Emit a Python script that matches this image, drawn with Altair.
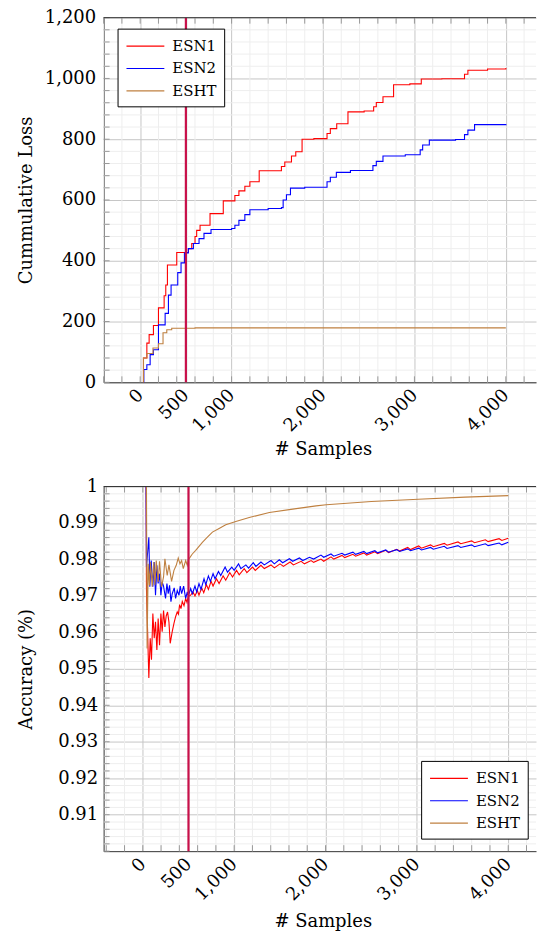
import altair as alt
import pandas as pd

FONT = "DejaVu Serif"
series = ["ESN1", "ESN2", "ESHT"]
colors = ["#ff0000", "#0000ff", "#bf8040"]
marker_x = [500]

# ---------------- Cumulative loss (step lines) ----------------
loss_esn1_x = [36, 36, 73, 98, 145, 200, 262, 280, 298, 400, 527, 564, 600, 618, 655, 764, 909, 1036,
               1080, 1145, 1200, 1302, 1545, 1582, 1655, 1702, 1771, 1900, 2044, 2080, 2150, 2273, 2450,
               2554, 2583, 2656, 2772, 2950, 3075, 3300, 3548, 3585, 3800, 4000]
loss_esn1_y = [0, 80, 129, 157, 187, 245, 285, 320, 386, 427, 440, 457, 480, 500, 517, 555, 597, 615,
               630, 645, 660, 696, 710, 725, 745, 759, 800, 802, 819, 835, 851, 890, 893,
               907, 921, 940, 979, 982, 998, 999, 1014, 1027, 1031, 1034]

loss_esn2_x = [40, 40, 73, 109, 145, 200, 273, 309, 338, 411, 447, 484, 527, 582, 644, 698, 775, 1000,
               1036, 1080, 1145, 1200, 1400, 1545, 1564, 1600, 1644, 1800, 2044, 2080, 2146, 2300, 2546,
               2583, 2656, 2900, 3063, 3090, 3163, 3450, 3548, 3585, 3658, 4000]
loss_esn2_y = [0, 42, 58, 91, 107, 189, 227, 287, 320, 361, 393, 426, 440, 457, 473, 490, 503, 506,
               517, 533, 552, 568, 572, 575, 600, 617, 639, 642, 660, 675, 691, 697, 713,
               727, 745, 749, 765, 781, 797, 799, 815, 830, 848, 850]

loss_esht_x = [36, 36, 73, 140, 200, 250, 291, 345, 600, 4000]
loss_esht_y = [0, 80, 95, 113, 127, 163, 173, 178, 179, 179]

# ---------------- Accuracy ----------------
acc_esn1_x = [36, 40, 66, 81, 95, 110, 125, 139, 154, 168, 183, 198, 212, 227, 242, 256, 271, 286, 300,
              322, 341, 359, 377, 390, 403, 418, 432, 451, 469, 484, 498,
              524, 549, 571, 597, 615, 645, 667, 696, 718, 747, 769, 806, 835, 879, 908, 952, 982,
              1026, 1055, 1110, 1139, 1201, 1231, 1293, 1330, 1403, 1440, 1502, 1539, 1612, 1648,
              1733, 1769, 1842, 1870,
              1950, 1980, 2060, 2090, 2180, 2210, 2300, 2330, 2420, 2450, 2540, 2570, 2660, 2690,
              2780, 2810, 2900, 2930, 3020, 3050, 3150, 3180, 3300, 3330, 3450, 3480, 3600, 3630,
              3750, 3780, 3900, 3930, 4000]
acc_esn1_y = [1.0, 0.972, 0.9475, 0.9584, 0.9525, 0.9652, 0.9584, 0.9629, 0.9552, 0.9638, 0.9565,
              0.9652, 0.9602, 0.966, 0.9615, 0.9645, 0.9656, 0.9629, 0.957,
              0.9602, 0.9625, 0.9643, 0.9656, 0.965, 0.9676, 0.9665, 0.9685, 0.9673, 0.9693, 0.9682, 0.9698,
              0.9702, 0.9711, 0.97, 0.9715, 0.9702, 0.9722, 0.9709, 0.9731, 0.9718, 0.974, 0.9727,
              0.9747, 0.9734, 0.9755, 0.9743, 0.9764, 0.9752,
              0.977, 0.9758, 0.9775, 0.9764, 0.9779, 0.977, 0.9784, 0.9775, 0.9785, 0.9777, 0.9788,
              0.9781, 0.9793, 0.9785, 0.9795, 0.9788, 0.9797, 0.9792,
              0.9801, 0.9795, 0.9807, 0.9801, 0.9811, 0.9805, 0.9814, 0.9809, 0.9818, 0.9812, 0.9821,
              0.9816, 0.9825, 0.9819, 0.9828, 0.9823, 0.9833, 0.9827, 0.9837, 0.9831, 0.984, 0.9835,
              0.9844, 0.9839, 0.9848, 0.9843, 0.9851, 0.9846, 0.9854, 0.9849, 0.9857, 0.9852, 0.9858]

acc_esn2_x = [36, 40, 66, 77, 92, 110, 125, 139, 154, 168, 183, 198, 212, 227, 249, 264, 278, 293, 308,
              322, 344, 359, 377, 396, 410, 425, 447, 469, 487, 498,
              524, 542, 571, 590, 615, 637, 670, 689, 718, 740, 769, 791, 828, 853, 901, 927, 974, 1000,
              1048, 1073, 1128, 1158, 1209, 1238, 1293, 1330, 1403, 1440, 1494, 1531, 1604, 1641,
              1714, 1751, 1824, 1870,
              1950, 1980, 2060, 2090, 2180, 2210, 2300, 2330, 2420, 2450, 2540, 2570, 2660, 2690,
              2780, 2810, 2900, 2930, 3020, 3050, 3150, 3180, 3300, 3330, 3450, 3480, 3600, 3630,
              3750, 3780, 3900, 3930, 4000]
acc_esn2_y = [1.0, 0.978, 0.9861, 0.9725, 0.9797, 0.9725, 0.9793, 0.9702, 0.9784, 0.9734, 0.9761,
              0.9702, 0.9738, 0.9727, 0.9693, 0.9734, 0.9706, 0.9729, 0.9684,
              0.9706, 0.9722, 0.9693, 0.9715, 0.9702, 0.9727, 0.9706, 0.9727, 0.9693, 0.9711, 0.97,
              0.972, 0.9706, 0.9727, 0.9711, 0.9734, 0.9718, 0.9747, 0.9731, 0.9755, 0.974, 0.9761,
              0.9747, 0.9767, 0.9756, 0.9779, 0.9765, 0.9779, 0.977,
              0.9788, 0.9775, 0.9785, 0.9776, 0.9791, 0.9781, 0.9793, 0.9785, 0.9797, 0.9788, 0.9799,
              0.9791, 0.9802, 0.9795, 0.9804, 0.9797, 0.9806, 0.9801,
              0.9812, 0.9806, 0.9815, 0.9809, 0.9817, 0.9812, 0.982, 0.9814, 0.9822, 0.9816, 0.9824,
              0.9818, 0.9826, 0.982, 0.9827, 0.9822, 0.9829, 0.9824, 0.9831, 0.9826, 0.9833, 0.9828,
              0.9836, 0.983, 0.9838, 0.9833, 0.984, 0.9835, 0.9843, 0.9838, 0.9845, 0.984, 0.9847]

acc_esht_x = [36, 40, 47, 59, 73, 84, 103, 121, 132, 147, 168, 183, 205, 227, 242, 267, 286, 315, 341,
              366, 388, 407, 425, 443, 469, 487, 498, 542, 579, 652, 707, 762, 835, 908, 1018, 1165,
              1385, 1641, 1897, 2008, 2502, 3015, 3527, 4000]
acc_esht_y = [1.0, 1.0, 0.9556, 0.9788, 0.9729, 0.9793, 0.9725, 0.9793, 0.9729, 0.9797, 0.9738, 0.9795,
              0.9725, 0.9752, 0.9802, 0.9756, 0.9785, 0.974, 0.977, 0.9784, 0.9804, 0.9788, 0.9797,
              0.9775, 0.9797, 0.9784, 0.9799, 0.9815, 0.9825, 0.9847, 0.9861, 0.9875, 0.9885, 0.9895,
              0.9904, 0.9915, 0.9929, 0.9938, 0.9947, 0.995, 0.9959, 0.9965, 0.9971, 0.9975]

# axis values
x_label_vals = [0, 500, 1000, 2000, 3000, 4000]
x_all = list(range(-400, 4201, 200))
x_minor = [v for v in x_all if v % 1000 != 0]
loss_major = list(range(0, 1201, 200))
loss_all = list(range(0, 1201, 40))
loss_minor = [v for v in loss_all if v % 200 != 0]
acc_major = [round(0.91 + 0.01 * i, 2) for i in range(10)]
acc_all = [round(0.90 + 0.002 * i, 3) for i in range(51)]
acc_minor = [v for v in acc_all if round(v * 1000) % 10 != 0]


def make_df(pairs):
    rows = []
    for name, xs, ys in pairs:
        for i, (a, b) in enumerate(zip(xs, ys)):
            rows.append({"x": a, "y": b, "s": name, "i": i})
    return pd.DataFrame(rows)


loss_df = make_df([("ESN1", loss_esn1_x, loss_esn1_y), ("ESN2", loss_esn2_x, loss_esn2_y),
                   ("ESHT", loss_esht_x, loss_esht_y)])
acc_df = make_df([("ESN1", acc_esn1_x, acc_esn1_y), ("ESN2", acc_esn2_x, acc_esn2_y),
                  ("ESHT", acc_esht_x, acc_esht_y)])

W = 434
H = 366
TICK = 6
MINOR_C = "#eeeeee"
MAJOR_C = "#c6c6c6"
FRAME_C = "#333333"
TICK_C = "#999999"
VLINE_C = "#c8104a"

# legend symbol colour, looked up from the series/colour lists
sym_expr = " : ".join(f"datum.value == '{s}' ? '{c}'" for s, c in zip(series[:-1], colors[:-1]))
sym_expr = f"{sym_expr} : '{colors[-1]}'"


def panel(df, xdom, ydom, yvals, ymajor, yminor, ylabexpr, ytitle, interp, legend_pos, ylabpad, xtitle_y):
    xs = alt.Scale(domain=xdom, nice=False, zero=False)
    ys = alt.Scale(domain=ydom, nice=False, zero=False)
    xaxis = alt.Axis(values=x_label_vals, labelExpr="format(datum.value, ',')", labelAngle=-45,
                     labelAlign="right", labelBaseline="middle", labelPadding=10, labelOverlap=False,
                     ticks=False, grid=True, gridColor=MAJOR_C, domainColor=FRAME_C, labelFont=FONT,
                     labelFontSize=18, labelColor="black", titleFont=FONT, titleFontSize=18,
                     titleFontWeight="normal", titleColor="black", titleX=220, titleY=xtitle_y,
                     titleBaseline="alphabetic", titleAlign="center")
    yaxis = alt.Axis(values=ymajor, labelExpr=ylabexpr, ticks=False, grid=True, gridColor=MAJOR_C,
                     labelOverlap=False, domainColor=FRAME_C, labelFont=FONT, labelFontSize=18,
                     labelColor="black", labelPadding=ylabpad, titleFont=FONT, titleFontSize=18,
                     titleFontWeight="normal", titleColor="black", titleX=-72, titleY=H / 2,
                     titleAngle=270, titleBaseline="alphabetic", titleAlign="center")
    X = alt.X("x:Q", scale=xs, title="# Samples", axis=xaxis)
    Y = alt.Y("y:Q", scale=ys, title=ytitle, axis=yaxis)

    xg = pd.DataFrame({"x": x_minor})
    yg = pd.DataFrame({"y": yminor})
    xt = pd.DataFrame({"x": x_all})
    yt = pd.DataFrame({"y": yvals})

    minor_x = alt.Chart(xg).mark_rule(color=MINOR_C, strokeWidth=1).encode(x=X)
    minor_y = alt.Chart(yg).mark_rule(color=MINOR_C, strokeWidth=1).encode(y=Y)

    lines = alt.Chart(df).mark_line(strokeWidth=1.1, interpolate=interp).encode(
        x=X, y=Y,
        color=alt.Color("s:N", scale=alt.Scale(domain=series, range=colors),
                        legend=alt.Legend(title=None, orient="none", legendX=legend_pos[0],
                                          legendY=legend_pos[1], direction="vertical",
                                          symbolType="M-0.9,0H3.1", symbolSize=361, symbolStrokeWidth=1.2,
                                          symbolStrokeColor={"expr": sym_expr},
                                          labelFont=FONT, labelFontSize=15, labelColor="black",
                                          strokeColor="black", fillColor="white", padding=7,
                                          rowPadding=3.5, labelOffset=27)),
        order=alt.Order("i:Q"),
    )

    vline = alt.Chart(pd.DataFrame({"x": marker_x})).mark_rule(color=VLINE_C, strokeWidth=2.2).encode(x=X)

    top_t = alt.Chart(xt).mark_rule(color=TICK_C).encode(x=X, y=alt.value(0), y2=alt.value(TICK))
    bot_t = alt.Chart(xt).mark_rule(color=TICK_C).encode(x=X, y=alt.value(H), y2=alt.value(H - TICK))
    left_t = alt.Chart(yt).mark_rule(color=TICK_C).encode(y=Y, x=alt.value(0), x2=alt.value(TICK))
    top_border = alt.Chart(pd.DataFrame({"k": [0]})).mark_rule(color=FRAME_C, strokeWidth=1).encode(
        y=alt.value(0), x=alt.value(0), x2=alt.value(W))

    return alt.layer(minor_x, minor_y, lines, vline, top_t, bot_t, left_t, top_border).properties(
        width=W, height=H)


top = panel(loss_df, [-400, 4330], [0, 1200], loss_all, loss_major, loss_minor,
            "format(datum.value, ',')", "Cummulative Loss", "step-after", (14, 11), 8, 72)
bottom = panel(acc_df, [-429, 4304], [0.90, 1.0], acc_all, acc_major, acc_minor,
               "format(datum.value, '~g')", "Accuracy (%)", "linear", (318.7, 275.4), 6, 76)

chart = alt.vconcat(top, bottom, spacing=104.6, bounds="flush").resolve_scale(
    color="independent"
).properties(
    padding={"left": 18, "top": 7, "right": 0, "bottom": 0},
    background="white",
).configure_view(stroke=None)

chart.save("out.html", embed_options={"renderer": "svg", "actions": False})
